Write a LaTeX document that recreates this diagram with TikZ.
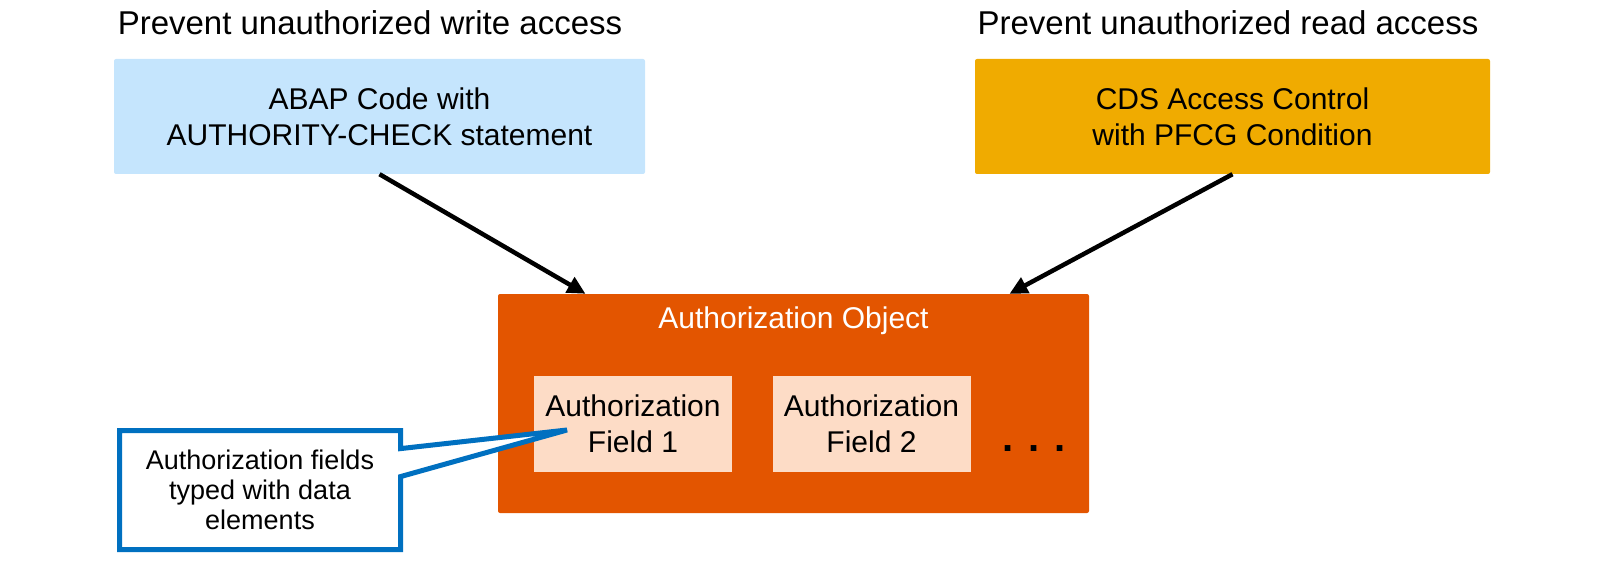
\documentclass[tikz,border=0pt]{standalone}
\usepackage{fontspec}
\setmainfont{Liberation Sans}
\usetikzlibrary{arrows.meta,shapes.callouts}

\definecolor{abapblue}{RGB}{197,229,253}
\definecolor{cdsgold}{RGB}{240,171,0}
\definecolor{objorange}{RGB}{227,85,0}
\definecolor{fieldpeach}{RGB}{253,220,198}
\definecolor{noteblue}{RGB}{0,112,192}

\begin{document}
\begin{tikzpicture}[x=1pt,y=-1pt,
  heading/.style={font=\fontsize{33}{40}\selectfont},
  topbox/.style={rectangle, rounded corners=2pt, inner sep=0pt, align=center,
    minimum height=115pt, font=\fontsize{30}{36}\selectfont},
  field/.style={rectangle, fill=fieldpeach, inner sep=0pt, align=center,
    minimum width=198pt, minimum height=96pt, font=\fontsize{30}{36}\selectfont},
  link/.style={line width=4.5pt, -{Triangle[length=18pt,width=17pt]}}]
  \useasboundingbox (0,0) rectangle (1600,564);
  \node[heading] (writehead) at (370,23) {Prevent unauthorized write access};
  \node[heading] (readhead) at (1228,23) {Prevent unauthorized read access};
  \node[topbox, fill=abapblue, minimum width=531pt] (abap) at (379.5,116.5)
    {ABAP Code with\\AUTHORITY-CHECK statement};
  \node[topbox, fill=cdsgold, minimum width=515pt] (cds) at (1232.5,116.5)
    {CDS Access Control\\with PFCG Condition};
  \node[rectangle, rounded corners=2pt, fill=objorange, minimum width=591pt,
    minimum height=219pt] (authobj) at (793.5,403.5) {};
  \node[text=white, font=\fontsize{30}{36}\selectfont] (objtitle)
    at ([yshift=-27pt]authobj.north) {Authorization Object};
  \node[field] (field1) at (633,424) {Authorization\\Field 1};
  \node[field] (field2) at (871.5,424) {Authorization\\Field 2};
  \node[anchor=base, font=\bfseries\fontsize{40}{48}\selectfont] (more) at (1034,451) {. . .};
  \draw[link] (abap.south) -- ([xshift=-208pt]authobj.north);
  \draw[link] (cds.south) -- ([xshift=216pt]authobj.north);
  \node[rectangle callout, draw=noteblue, line width=5pt, fill=white, align=center,
    minimum width=281pt, minimum height=119pt, inner sep=0pt,
    callout pointer width=28pt,
    callout absolute pointer={([xshift=-66pt,yshift=-6pt]field1.center)},
    font=\fontsize{27}{30}\selectfont] (note) at (260,490)
    {Authorization fields\\typed with data\\elements};
\end{tikzpicture}
\end{document}
